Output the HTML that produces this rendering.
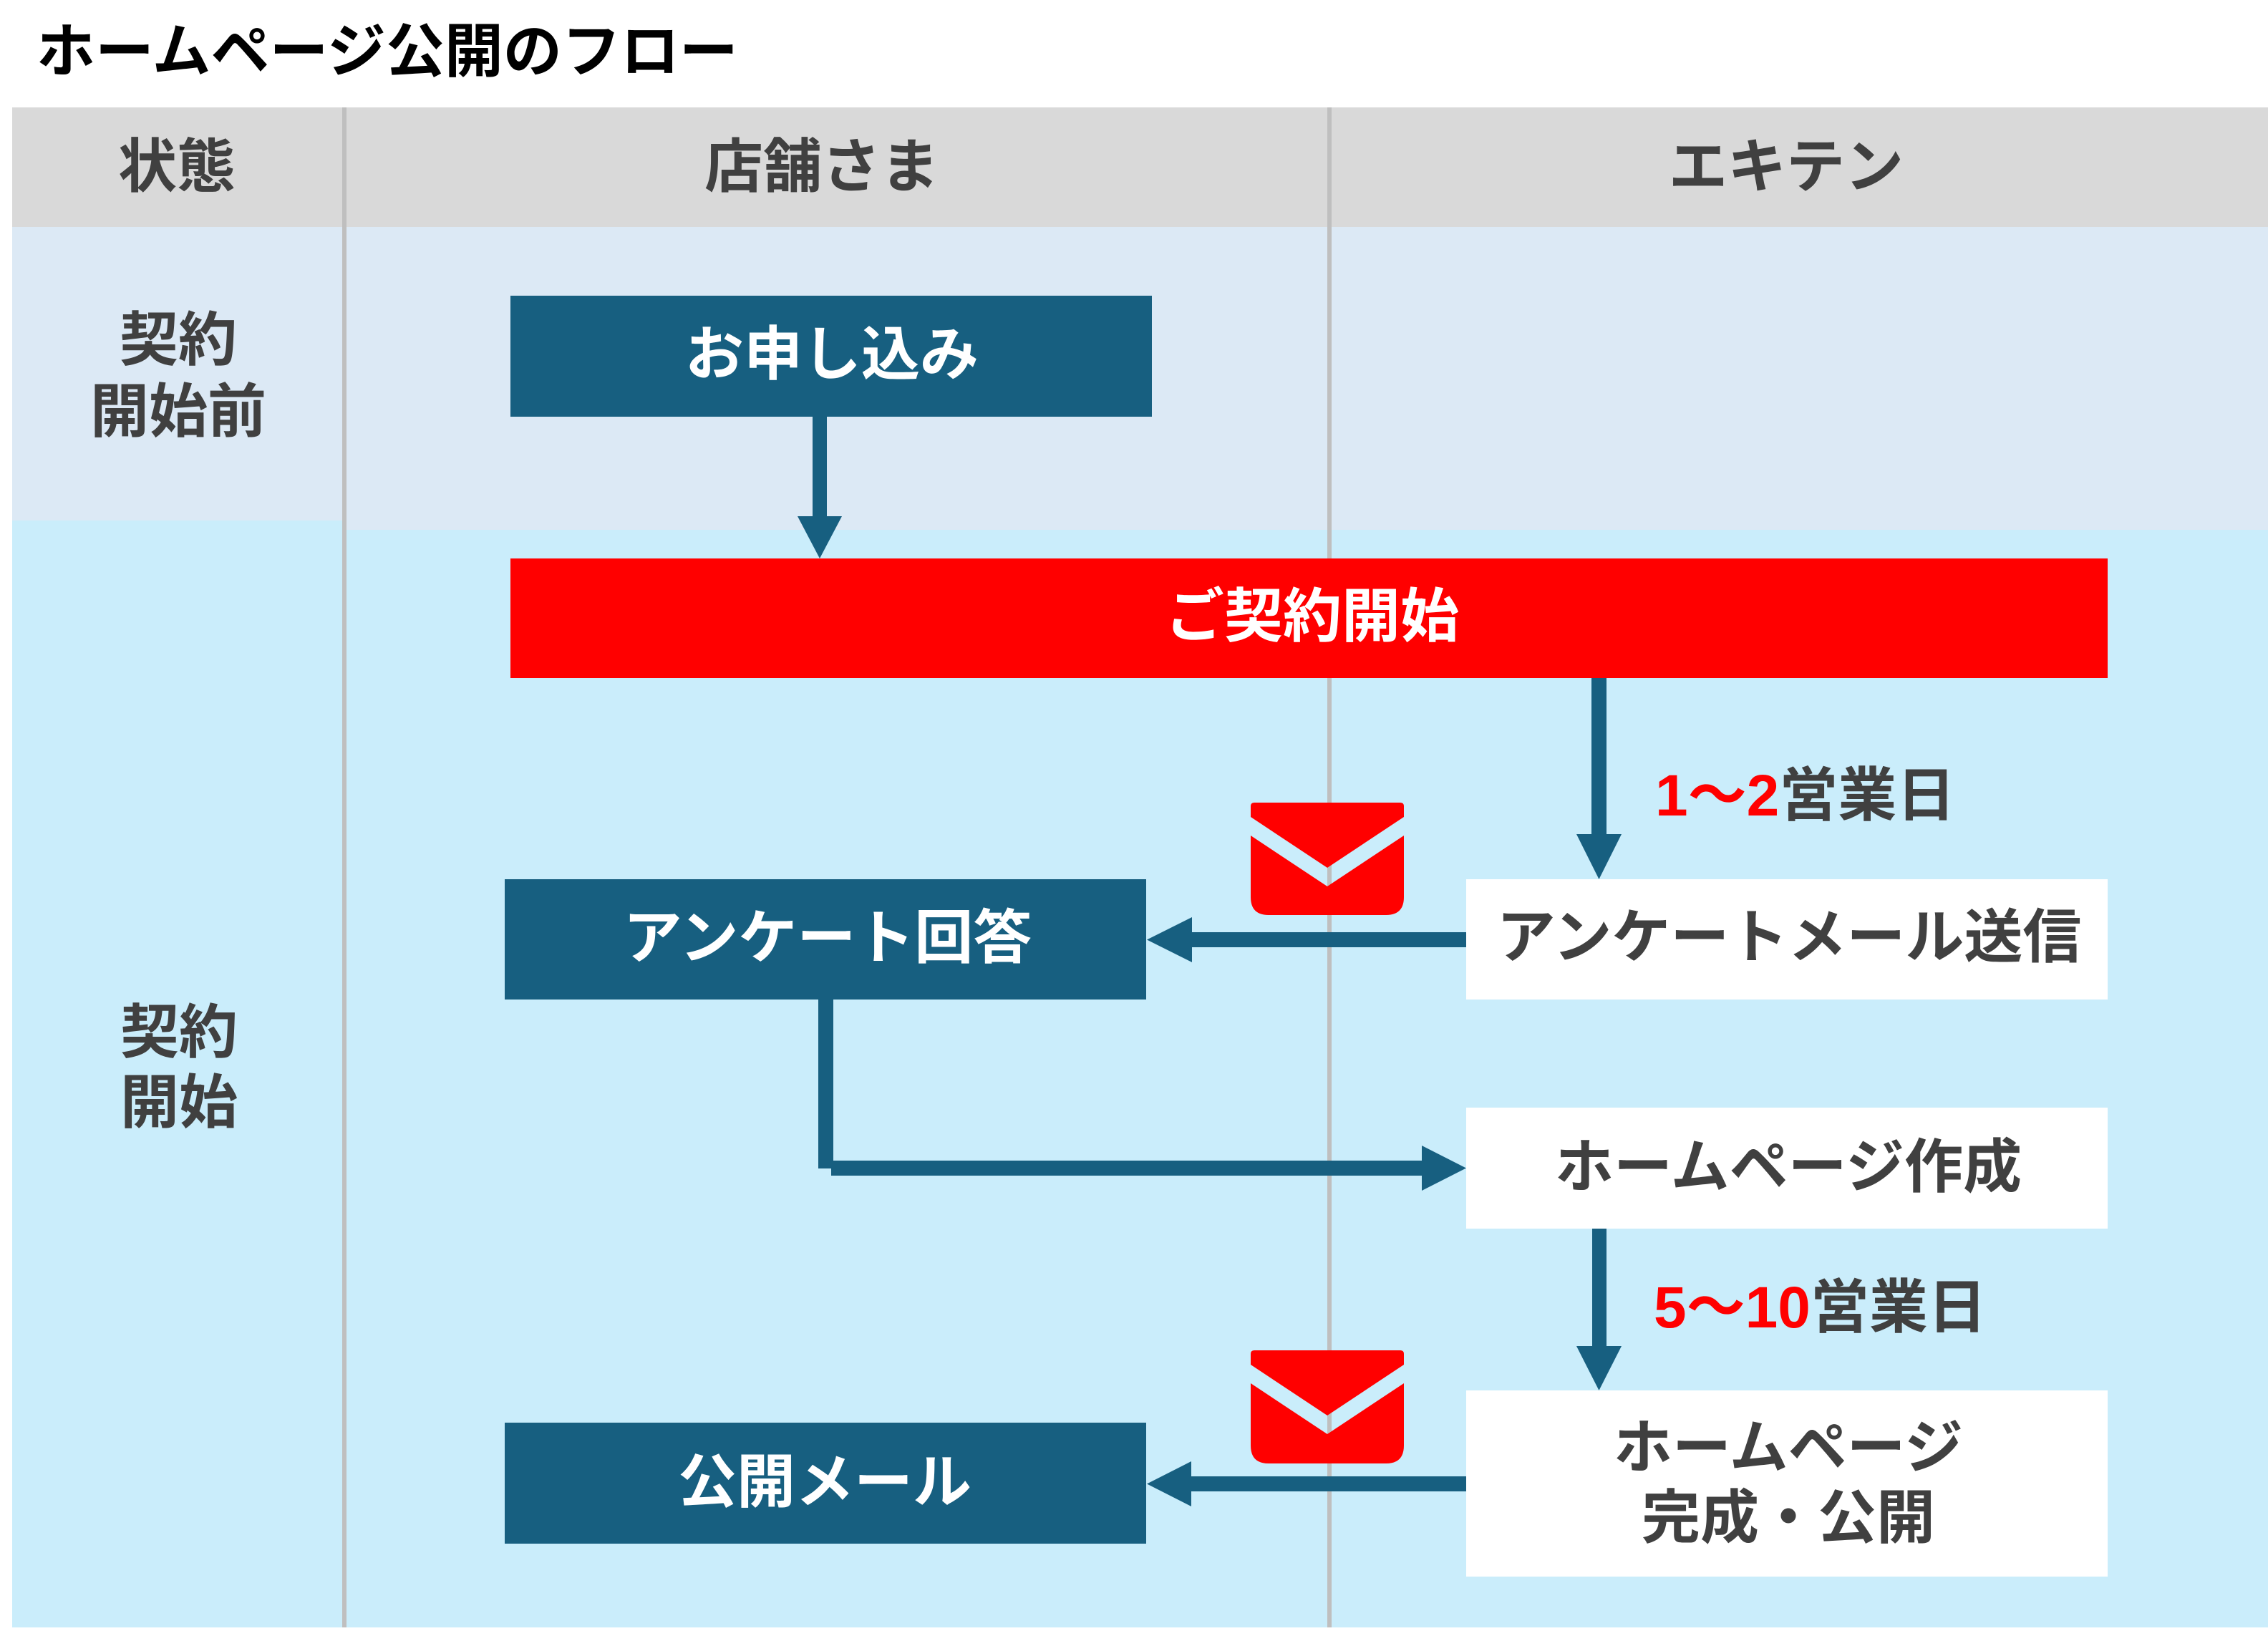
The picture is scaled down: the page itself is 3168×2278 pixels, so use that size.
<!DOCTYPE html>
<html lang="ja">
<head>
<meta charset="utf-8">
<style>
  html, body { margin: 0; padding: 0; background: #ffffff; }
  body { width: 3168px; height: 2278px; overflow: hidden; }
  svg { display: block; }
  text { font-family: "Liberation Sans", "Noto Sans CJK JP", sans-serif; font-weight: 700; font-size: 82px; }
  .g { fill: #404040; }
  .w { fill: #ffffff; }
  .r { fill: #ff0000; }
</style>
</head>
<body>
<svg width="3168" height="2278" viewBox="0 0 3168 2278" xmlns="http://www.w3.org/2000/svg">
  <!-- background bands -->
  <rect x="0" y="0" width="3168" height="2278" fill="#ffffff"/>
  <rect x="17" y="150" width="3151" height="167" fill="#d9d9d9"/>
  <rect x="17" y="317" width="3151" height="423" fill="#dce9f5"/>
  <rect x="17" y="727" width="461" height="1546" fill="#caedfb"/>
  <rect x="478" y="740" width="2690" height="1533" fill="#caedfb"/>

  <!-- column dividers -->
  <rect x="478" y="150" width="6" height="2123" fill="#bfbfbf"/>
  <rect x="1854" y="150" width="6" height="2123" fill="#bfbfbf"/>

  <!-- title -->
  <text x="51" y="100" style="fill:#000000">ホームページ公開のフロー</text>

  <!-- header labels -->
  <text class="g" x="247" y="261" text-anchor="middle">状態</text>
  <text class="g" x="1148" y="261" text-anchor="middle">店舗さま</text>
  <text class="g" x="2495" y="261" text-anchor="middle">エキテン</text>

  <!-- state labels -->
  <text class="g" x="249" y="503" text-anchor="middle">契約</text>
  <text class="g" x="249" y="603" text-anchor="middle">開始前</text>
  <text class="g" x="250" y="1470" text-anchor="middle">契約</text>
  <text class="g" x="250" y="1568" text-anchor="middle">開始</text>

  <!-- boxes -->
  <rect x="713" y="413" width="896" height="169" fill="#175f80"/>
  <rect x="713" y="780" width="2231" height="167" fill="#ff0000"/>
  <rect x="705" y="1228" width="896" height="168" fill="#175f80"/>
  <rect x="2048" y="1228" width="896" height="168" fill="#ffffff"/>
  <rect x="2048" y="1547" width="896" height="169" fill="#ffffff"/>
  <rect x="2048" y="1942" width="896" height="260" fill="#ffffff"/>
  <rect x="705" y="1987" width="896" height="169" fill="#175f80"/>

  <!-- arrows -->
  <g fill="#175f80">
    <!-- A1 お申し込み -> ご契約開始 -->
    <rect x="1135" y="582" width="20" height="141"/>
    <polygon points="1114,721 1176,721 1145,780"/>
    <!-- A2 ご契約開始 -> アンケートメール送信 -->
    <rect x="2223" y="947" width="21" height="220"/>
    <polygon points="2202,1165 2265,1165 2233.5,1228"/>
    <!-- A3 アンケートメール送信 -> アンケート回答 -->
    <rect x="1663" y="1302" width="385" height="21"/>
    <polygon points="1665,1281 1665,1344 1602,1312.5"/>
    <!-- A4 elbow アンケート回答 -> ホームページ作成 -->
    <rect x="1143" y="1396" width="21" height="236"/>
    <rect x="1161" y="1621" width="827" height="21"/>
    <polygon points="1986,1600 1986,1663 2048,1631.5"/>
    <!-- A5 ホームページ作成 -> 完成 -->
    <rect x="2224" y="1716" width="20" height="166"/>
    <polygon points="2202,1880 2265,1880 2233.5,1942"/>
    <!-- A6 完成 -> 公開メール -->
    <rect x="1662" y="2062" width="386" height="21"/>
    <polygon points="1664,2041 1664,2104 1602,2072.5"/>
  </g>

  <!-- envelopes -->
  <g fill="#ff0000" transform="translate(1747,1121)">
    <path d="M0,5 Q0,0 5,0 H209 Q214,0 214,5 V20 L107,91 L0,20 Z"/>
    <path d="M0,46 L107,117 L214,46 V132 Q214,157 189,157 H25 Q0,157 0,132 Z"/>
  </g>
  <g fill="#ff0000" transform="translate(1747,1886)">
    <path d="M0,5 Q0,0 5,0 H209 Q214,0 214,5 V20 L107,91 L0,20 Z"/>
    <path d="M0,46 L107,117 L214,46 V133 Q214,158 189,158 H25 Q0,158 0,133 Z"/>
  </g>

  <!-- box labels -->
  <text class="w" x="1162" y="523" text-anchor="middle">お申し込み</text>
  <text class="w" x="1833" y="889" text-anchor="middle">ご契約開始</text>
  <text class="w" x="1156" y="1338" text-anchor="middle">アンケート回答</text>
  <text class="g" x="2499" y="1337" text-anchor="middle">アンケートメール送信</text>
  <text class="g" x="2498" y="1658" text-anchor="middle">ホームページ作成</text>
  <text class="g" x="2498" y="2050" text-anchor="middle">ホームページ</text>
  <text class="g" x="2498" y="2148" text-anchor="middle">完成・公開</text>
  <text class="w" x="1152" y="2098" text-anchor="middle">公開メール</text>

  <!-- duration labels -->
  <text x="2312" y="1139"><tspan class="r">1〜2</tspan><tspan class="g">営業日</tspan></text>
  <text x="2310" y="1854"><tspan class="r">5〜10</tspan><tspan class="g">営業日</tspan></text>
</svg>
</body>
</html>
